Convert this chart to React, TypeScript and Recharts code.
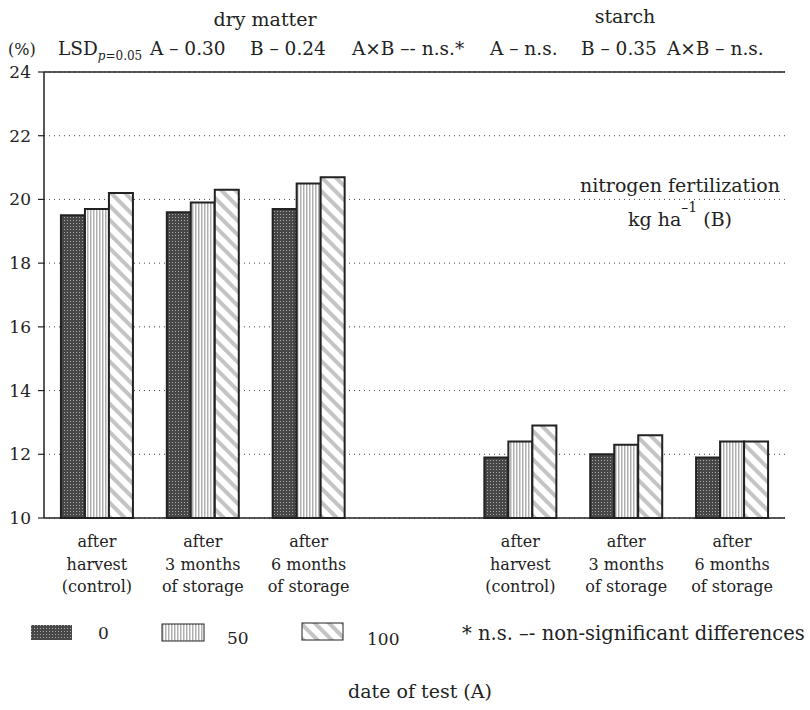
import React from 'react';
import {
  BarChart,
  Bar,
  XAxis,
  YAxis,
  CartesianGrid,
  ReferenceLine,
} from 'recharts';

// date of test (A): dry matter groups, an empty gap slot, then starch groups
const categories = [
  'after|harvest|(control)',
  'after|3 months|of storage',
  'after|6 months|of storage',
  '',
  'after|harvest|(control)',
  'after|3 months|of storage',
  'after|6 months|of storage',
];

// nitrogen fertilization kg ha-1 (B)
const n0 = [19.5, 19.6, 19.7, null, 11.9, 12.0, 11.9];
const n50 = [19.7, 19.9, 20.5, null, 12.4, 12.3, 12.4];
const n100 = [20.2, 20.3, 20.7, null, 12.9, 12.6, 12.4];

const yTicks = [10, 12, 14, 16, 18, 20, 22, 24];
const legendLabels = ['0', '50', '100'];

const data = categories.map((cat, i) => ({
  cat,
  n0: n0[i],
  n50: n50[i],
  n100: n100[i],
}));

const FONT = '"DejaVu Serif", serif';
const INK = '#222';

function PatternDefs({ suffix }: { suffix: string }) {
  return (
    <defs>
      <pattern id={`pDots${suffix}`} width="3" height="3" patternUnits="userSpaceOnUse">
        <rect width="3" height="3" fill="#474747" />
        <rect x="1" y="1" width="1" height="1" fill="#a8a8a8" />
      </pattern>
      <pattern id={`pVert${suffix}`} width="3" height="3" patternUnits="userSpaceOnUse">
        <rect width="3" height="3" fill="#fff" />
        <rect width="1.5" height="3" fill="#b0b0b0" />
      </pattern>
      <pattern
        id={`pDiag${suffix}`}
        width="10"
        height="10"
        patternUnits="userSpaceOnUse"
        patternTransform="rotate(-45)"
      >
        <rect width="10" height="10" fill="#fff" />
        <rect width="4" height="10" fill="#c4c4c4" />
      </pattern>
    </defs>
  );
}

const XTick = (props: any) => {
  const { x, y, payload } = props;
  if (!payload.value) return null;
  const lines = String(payload.value).split('|');
  return (
    <text x={x} y={y} textAnchor="middle" fontFamily={FONT} fontSize={16} fill={INK}>
      {lines.map((l, i) => (
        <tspan key={i} x={x} dy={i === 0 ? 21 : 22.5}>
          {l}
        </tspan>
      ))}
    </text>
  );
};

export default function App() {
  const txt = { fontFamily: FONT, fill: INK } as const;
  return (
    <div style={{ position: 'absolute', left: 0, top: 0, width: 810, height: 710 }}>
      <BarChart
        width={810}
        height={710}
        data={data}
        margin={{ top: 72, right: 25, bottom: 112, left: 0 }}
        barCategoryGap="16%"
        barGap={0}
      >
        <PatternDefs suffix="" />
        <CartesianGrid
          horizontal
          vertical={false}
          stroke="#444"
          strokeDasharray="1 4"
        />
        <XAxis
          dataKey="cat"
          height={80}
          interval={0}
          tickLine={false}
          axisLine={{ stroke: INK, strokeWidth: 1.5 }}
          tick={<XTick />}
        />
        <YAxis
          width={44}
          domain={[10, 24]}
          ticks={yTicks}
          interval={0}
          tickSize={6}
          tickMargin={7}
          axisLine={{ stroke: INK, strokeWidth: 1.5 }}
          tickLine={{ stroke: INK, strokeWidth: 1.2 }}
          tick={{ fontFamily: FONT, fontSize: 17, fill: INK }}
        />
        <ReferenceLine y={24} stroke={INK} strokeWidth={1.5} />
        <Bar dataKey="n0" fill="url(#pDots)" stroke={INK} strokeWidth={2} isAnimationActive={false} />
        <Bar dataKey="n50" fill="url(#pVert)" stroke={INK} strokeWidth={2} isAnimationActive={false} />
        <Bar dataKey="n100" fill="url(#pDiag)" stroke={INK} strokeWidth={2} isAnimationActive={false} />
      </BarChart>

      <svg
        width={810}
        height={710}
        style={{ position: 'absolute', left: 0, top: 0, pointerEvents: 'none' }}
      >
        <PatternDefs suffix="L" />
        <text x={265} y={26} textAnchor="middle" fontSize={19} {...txt}>dry matter</text>
        <text x={625} y={23} textAnchor="middle" fontSize={19} {...txt}>starch</text>

        <text x={8} y={55} fontSize={16} {...txt}>(%)</text>
        <text x={58} y={55} fontSize={18.5} {...txt}>
          LSD
          <tspan fontSize={12} dy={5}>
            <tspan fontStyle="italic">p</tspan>=0.05
          </tspan>
        </text>
        <text x={150} y={55} fontSize={18.5} {...txt}>A – 0.30</text>
        <text x={250} y={55} fontSize={18.5} {...txt}>B – 0.24</text>
        <text x={352} y={55} fontSize={18.5} {...txt}>A×B –- n.s.*</text>
        <text x={490} y={55} fontSize={18.5} {...txt}>A – n.s.</text>
        <text x={581} y={55} fontSize={18.5} {...txt}>B – 0.35</text>
        <text x={667} y={55} fontSize={18.5} {...txt}>A×B – n.s.</text>

        <text x={780} y={192} textAnchor="end" fontSize={19} {...txt}>nitrogen fertilization</text>
        <text x={628} y={226} fontSize={19} {...txt}>
          kg ha
          <tspan fontSize={14} dy={-14}>–1</tspan>
          <tspan dy={14}> (B)</tspan>
        </text>

        <rect x={31} y={625} width={41} height={15} fill="url(#pDotsL)" />
        <text x={98} y={639} fontSize={17} {...txt}>{legendLabels[0]}</text>
        <rect x={162} y={624} width={42} height={17} fill="url(#pVertL)" stroke={INK} strokeWidth={1} />
        <text x={227} y={644} fontSize={17} {...txt}>{legendLabels[1]}</text>
        <rect x={302} y={623} width={41} height={17} fill="url(#pDiagL)" stroke={INK} strokeWidth={1} />
        <text x={367} y={645} fontSize={17} {...txt}>{legendLabels[2]}</text>
        <text x={462} y={640} fontSize={19.5} {...txt}>* n.s. –- non-significant differences</text>

        <text x={420} y={698} textAnchor="middle" fontSize={19} {...txt}>date of test (A)</text>
      </svg>
    </div>
  );
}
